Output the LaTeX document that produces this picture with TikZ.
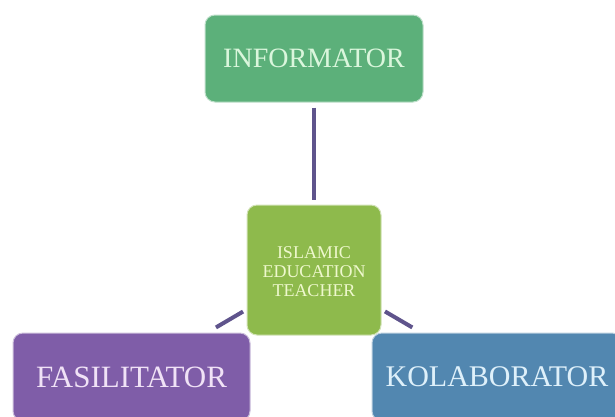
\documentclass[tikz,border=0pt]{standalone}
\usepackage{fontspec}
\setmainfont{Liberation Serif}
\definecolor{infoc}{RGB}{92,176,122}
\definecolor{infot}{RGB}{218,246,220}
\definecolor{centc}{RGB}{142,186,76}
\definecolor{centt}{RGB}{238,248,205}
\definecolor{fasc}{RGB}{127,93,168}
\definecolor{fast}{RGB}{240,226,246}
\definecolor{kolc}{RGB}{82,135,176}
\definecolor{kolt}{RGB}{222,240,250}
\definecolor{linkc}{RGB}{95,84,140}
\begin{document}
\begin{tikzpicture}[x=1pt,y=-1pt,
  box/.style={rectangle, rounded corners=10pt, line width=1pt, align=center, inner sep=0pt},
  link/.style={draw=linkc, line width=4pt}]
\useasboundingbox (0,0) rectangle (615,416);
\clip (0,0) rectangle (615,416);
\fill[white] (0,0) rectangle (615,416);
\node[box, fill=infoc, draw=infoc!40!white, text=infot, minimum width=218pt, minimum height=87pt,
  font=\fontsize{28}{30}\selectfont] (info) at (314,58.5) {INFORMATOR};
\node[box, fill=centc, draw=centc!40!white, text=centt, minimum width=134pt, minimum height=130pt,
  font=\fontsize{18}{19}\selectfont] (cent) at (314,270) {};
\node[align=center, text=centt, inner sep=0pt, font=\fontsize{18}{19}\selectfont] (centtext) at (314,272) {ISLAMIC\\EDUCATION\\TEACHER};
\node[box, fill=fasc, draw=fasc!40!white, text=fast, minimum width=237pt, minimum height=88pt,
  font=\fontsize{31}{33}\selectfont] (fas) at (131.5,377) {FASILITATOR};
\node[box, fill=kolc, draw=kolc!40!white, text=kolt, minimum width=250pt, minimum height=88pt,
  font=\fontsize{30}{33}\selectfont] (kol) at (497,377) {KOLABORATOR};
\draw[link, shorten <=5pt, shorten >=5pt] (info) -- (cent);
\draw[link, shorten <=4pt, shorten >=10pt] (cent) -- (fas);
\draw[link, shorten <=4pt, shorten >=10pt] (cent) -- (kol);
\end{tikzpicture}
\end{document}
